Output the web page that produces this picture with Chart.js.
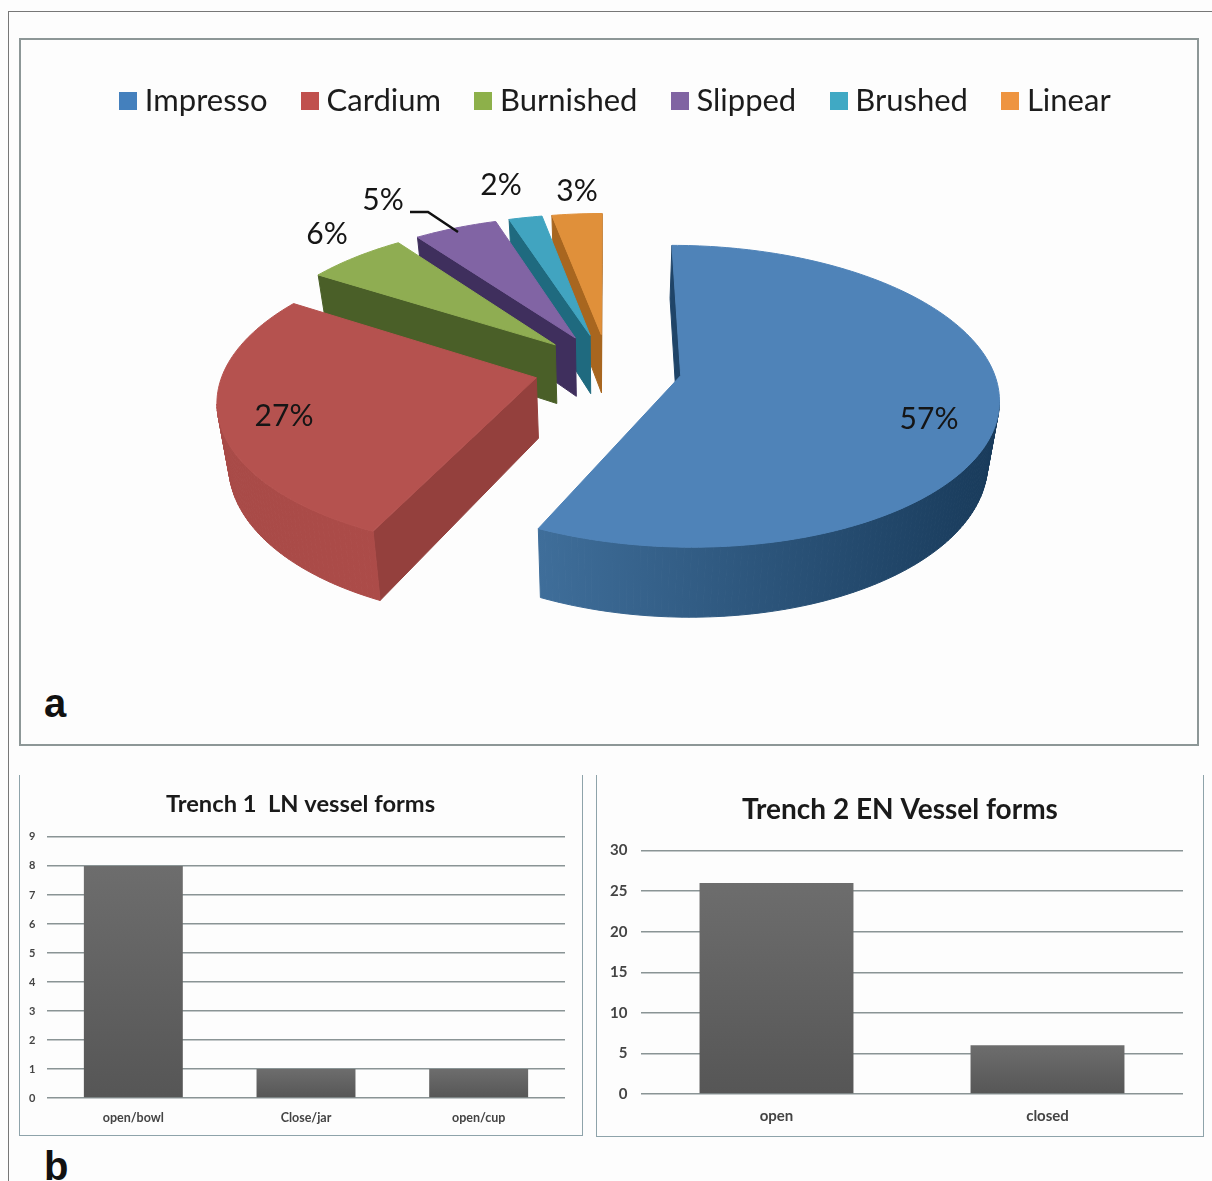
<!DOCTYPE html>
<html><head><meta charset="utf-8">
<script src="https://cdn.jsdelivr.net/npm/chart.js@4"></script>
<style>
html,body{margin:0;padding:0;background:#fdfdfd;overflow:hidden;width:1212px;height:1181px;position:relative}
canvas{position:absolute;display:block}
.frame{position:absolute;box-sizing:border-box}
.tag{position:absolute;font:bold 40px "Liberation Sans",Arial,sans-serif;color:#111;line-height:40px}
</style></head><body>
<div class="frame" style="left:8px;top:11px;width:1210px;height:1180px;border:1.5px solid #777"></div>
<div class="frame" style="left:19px;top:38px;width:1180px;height:708px;border:2.5px solid #8d9797"></div>
<div class="frame" style="left:19px;top:775px;width:564px;height:361px;border:1.5px solid #8ea3aa;border-top:none"></div>
<div class="frame" style="left:596px;top:775px;width:608px;height:362px;border:1.5px solid #8ea3aa;border-top:none"></div>
<div class="tag" style="left:44px;top:683px">a</div>
<div class="tag" style="left:44px;top:1146px">b</div>
<canvas id="pie" width="1212" height="760" style="left:0;top:0"></canvas>
<canvas id="bar1" width="563" height="360" style="left:19px;top:775px"></canvas>
<canvas id="bar2" width="606" height="361" style="left:597px;top:775px"></canvas>
<script>
// ---- data ----
const pieLabels = ['Impresso','Cardium','Burnished','Slipped','Brushed','Linear'];
const pieValues = [57,27,6,5,2,3];
const pieColors = ['#4f83b8','#b5524f','#8fad52','#8164a4','#41a4c0','#e0903a'];
const legendColors = ['#4480bd','#c0504d','#8db04a','#8064a2','#40a9c4','#ee9440'];
const wallColors = ['#1f4468','#94403d','#4a5f28','#3f2f5d','#1f6a7f','#a8661f'];
const rimFrom = ['#3f6e9a','#a84a47','#4a5f28','#3f2f5d','#1f6a7f','#a8661f'];
const rimTo = ['#183a5a','#b04d4a','#4a5f28','#3f2f5d','#1f6a7f','#a8661f'];
const t1Labels = ['open/bowl','Close/jar','open/cup'];
const t1Values = [8,1,1];
const t2Labels = ['open','closed'];
const t2Values = [26,6];

// ---- perspective used for the exploded 3-D pie ----
const VIEW = {cx:608, cy:368, radius:312, tilt:146, persp:0.136, depth:60, shrink:0.97, explode:74};
const labelAnchors = [[929,419],[284,416],[327,234],[383,200],[501,185],[577,191]];
const leader = [[410,212],[428,212],[458,232]];
const FONT = 'Lato, "Open Sans", sans-serif';

function project(X,Y){
  const u = Y/VIEW.radius, s = 1/(1-VIEW.persp*u);
  return {x:VIEW.cx+X*s, y:VIEW.cy+VIEW.tilt*u*s, s};
}
function lower(p){
  return {x:VIEW.cx+(p.x-VIEW.cx)*VIEW.shrink, y:p.y+VIEW.depth*p.s};
}
class Arc3D extends Chart.ArcElement {
  draw(ctx){
    const {startAngle,endAngle,outerRadius} = this.getProps(['startAngle','endAngle','outerRadius']);
    const mid = (startAngle+endAngle)/2, off = this.options.offset;
    const ox = Math.cos(mid)*off, oy = Math.sin(mid)*off;
    const pts = [project(ox,oy)];
    const n = Math.ceil((endAngle-startAngle)/0.02);
    for(let i=0;i<=n;i++){
      const a = startAngle+(endAngle-startAngle)*i/n;
      pts.push(project(ox+outerRadius*Math.cos(a),oy+outerRadius*Math.sin(a)));
    }
    const idx = this.sliceIndex;
    const xs = pts.map(p=>p.x);
    const grad = ctx.createLinearGradient(Math.min(...xs),0,Math.max(...xs),0);
    grad.addColorStop(0,rimFrom[idx]); grad.addColorStop(1,rimTo[idx]);
    ctx.save();
    ctx.lineWidth = 1; ctx.lineJoin = 'round';
    for(let i=0;i<pts.length;i++){
      const a = pts[i], b = pts[(i+1)%pts.length];
      if(b.x-a.x>=0) continue;
      const radial = i===0 || i===pts.length-1;
      const c = radial ? wallColors[idx] : grad;
      const la = lower(a), lb = lower(b);
      ctx.fillStyle = c; ctx.strokeStyle = c;
      ctx.beginPath(); ctx.moveTo(a.x,a.y); ctx.lineTo(b.x,b.y); ctx.lineTo(lb.x,lb.y); ctx.lineTo(la.x,la.y); ctx.closePath();
      ctx.fill(); ctx.stroke();
    }
    ctx.fillStyle = this.options.backgroundColor;
    ctx.strokeStyle = this.options.backgroundColor;
    ctx.beginPath();
    pts.forEach((p,i)=> i? ctx.lineTo(p.x,p.y) : ctx.moveTo(p.x,p.y));
    ctx.closePath(); ctx.fill(); ctx.stroke();
    ctx.restore();
  }
}
Arc3D.id = 'arc3d';
class Pie3D extends Chart.PieController {
  draw(){
    const ctx = this.chart.ctx, arcs = this._cachedMeta.data;
    for(let i=arcs.length-1;i>=0;i--){ arcs[i].sliceIndex = i; arcs[i].draw(ctx); }
  }
}
Pie3D.id = 'pie3d';
Pie3D.defaults = {dataElementType:'arc3d'};
Chart.register(Arc3D, Pie3D);

function swatch(color){
  const c = document.createElement('canvas'); c.width = 18; c.height = 18;
  const g = c.getContext('2d'); g.fillStyle = color; g.fillRect(0,0,18,18);
  return c;
}
const baseGen = Chart.PieController.overrides.plugins.legend.labels.generateLabels;
const pieText = {
  id:'pieText',
  afterDatasetsDraw(chart){
    const ctx = chart.ctx;
    ctx.save();
    ctx.font = '30px '+FONT; ctx.fillStyle = '#151515';
    ctx.textAlign = 'center'; ctx.textBaseline = 'middle';
    pieValues.forEach((v,i)=>ctx.fillText(v+'%',labelAnchors[i][0],labelAnchors[i][1]));
    ctx.strokeStyle = '#111'; ctx.lineWidth = 2.5;
    ctx.beginPath();
    leader.forEach((p,i)=> i? ctx.lineTo(p[0],p[1]) : ctx.moveTo(p[0],p[1]));
    ctx.stroke();
    ctx.restore();
  }
};
new Chart(document.getElementById('pie'),{
  type:'pie3d',
  data:{labels:pieLabels,datasets:[{data:pieValues,backgroundColor:pieColors,borderWidth:0,offset:VIEW.explode}]},
  options:{
    responsive:false,animation:false,radius:VIEW.radius,
    layout:{padding:{top:44,left:26}},
    plugins:{
      tooltip:{enabled:false},
      legend:{position:'top',labels:{
        color:'#1c1c1c',font:{family:FONT,size:31},usePointStyle:true,pointStyleWidth:2,padding:41.5,
        generateLabels(chart){
          return baseGen(chart).map((it,i)=>Object.assign(it,{pointStyle:swatch(legendColors[i])}));
        }
      }}
    }
  },
  plugins:[pieText]
});

function barGradient(c){
  if(c.type!=='data'||!c.parsed) return '#636363';
  const y = c.chart.scales.y;
  const y0 = y.getPixelForValue(c.parsed.y), y1 = y.getPixelForValue(0);
  if(!isFinite(y0)||!isFinite(y1)) return '#636363';
  const g = c.chart.ctx.createLinearGradient(0,y0,0,y1);
  g.addColorStop(0,'#6d6d6d'); g.addColorStop(1,'#565656');
  return g;
}
function barChart(id,labels,values,cfg){
  new Chart(document.getElementById(id),{
    type:'bar',
    data:{labels,datasets:[{data:values,backgroundColor:barGradient,borderWidth:0,barPercentage:1,categoryPercentage:cfg.cat}]},
    options:{
      responsive:false,animation:false,
      layout:{padding:{right:cfg.side,top:0,bottom:0,left:cfg.side}},
      plugins:{
        legend:{display:false},tooltip:{enabled:false},
        title:{display:true,text:cfg.title,color:'#1a1a1a',font:{family:FONT,size:cfg.titleSize,weight:'bold'},padding:cfg.titlePad}
      },
      scales:{
        x:{grid:{display:false},border:{display:false},
           ticks:{color:'#444',font:{family:FONT,size:cfg.xSize,weight:'bold'},padding:cfg.xPad,maxRotation:0},
           afterFit(s){s.height=cfg.xH;}},
        y:{min:0,max:cfg.max,
           grid:{color:cfg.grid,lineWidth:1.5,drawTicks:false},border:{display:false},
           ticks:{stepSize:cfg.step,color:'#444',font:{family:FONT,size:cfg.ySize,weight:'bold'},mirror:true,crossAlign:'far',padding:cfg.yPad},
           afterFit(s){s.width=cfg.yW;}}
      }
    }
  });
}
barChart('bar1',t1Labels,t1Values,{cat:.573,side:17,title:'Trench 1  LN vessel forms',titleSize:23.7,
  titlePad:{top:15,bottom:18.5},xSize:12.5,xPad:4,xH:37,max:9,step:1,grid:'#8a9495',ySize:11,yPad:-18,yW:11});
barChart('bar2',t2Labels,t2Values,{cat:.568,side:20,title:'Trench 2 EN Vessel forms',titleSize:28,
  titlePad:{top:18,bottom:24},xSize:15,xPad:5,xH:42,max:30,step:5,grid:'#8a9495',ySize:15,yPad:-31,yW:24});
</script>
</body></html>
